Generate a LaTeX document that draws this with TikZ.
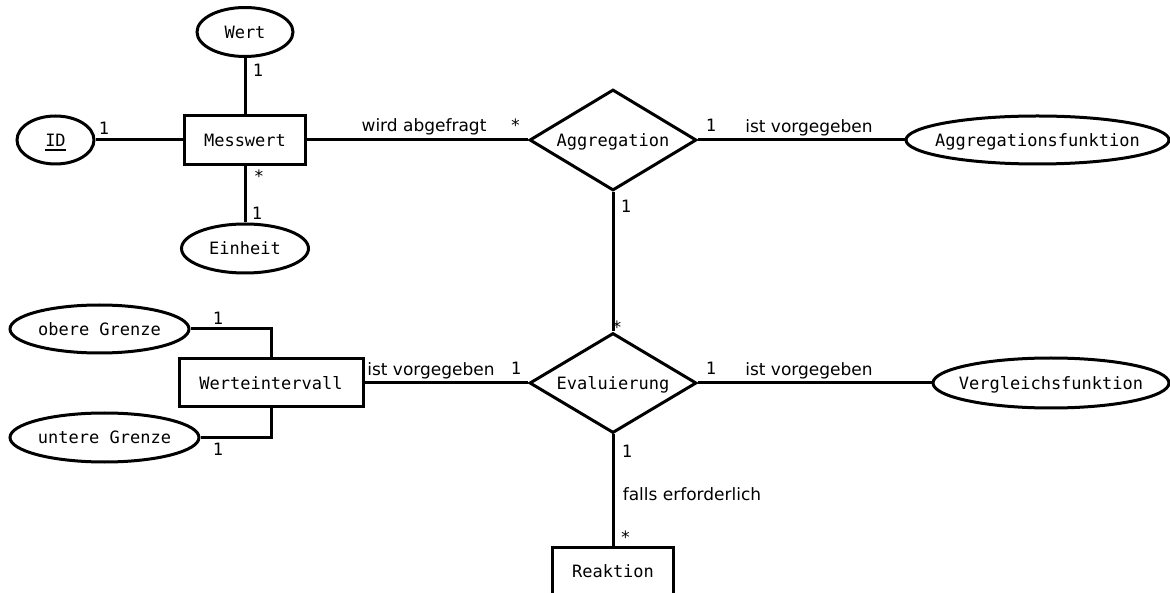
\documentclass[tikz,border=0pt]{standalone}
\usepackage{fontspec}
\setmainfont{DejaVu Sans}
\setmonofont{DejaVu Sans Mono}
\usetikzlibrary{shapes.geometric}
% key attribute: text with a thick underline
\newcommand\keyattr[1]{\setbox0=\hbox{#1}\hbox{\rlap{\copy0}\raisebox{-5.3pt}{\rule{\wd0}{2.4pt}}}}
\begin{document}
\begin{tikzpicture}[x=1pt,y=-1pt,
  every node/.style={font=\fontsize{17}{20}\selectfont\ttfamily},
  shapebase/.style={draw, line width=3pt, inner sep=0pt, text height=12.4pt, text depth=0pt},
  entity/.style={shapebase, rectangle},
  attr/.style={shapebase, ellipse},
  rel/.style={shapebase, diamond, aspect=1.65},
  card/.style={anchor=base, inner sep=0pt},
  role/.style={anchor=base, inner sep=0pt, font=\fontsize{17}{20}\selectfont\rmfamily},
  link/.style={line width=3pt}]
\useasboundingbox[fill=white] (0,0) rectangle (1170,593);

% entities
\node[entity, minimum width=121pt, minimum height=49pt] (mw) at (245,140) {Messwert};
\node[entity, minimum width=184pt, minimum height=48pt] (wi) at (271,383) {Werteintervall};
\node[entity, minimum width=121pt, minimum height=49pt] (re) at (613,571.5) {Reaktion};

% attributes
\node[attr, minimum width=96pt, minimum height=49pt] (wert) at (245,32) {\makebox[0pt]{Wert}};
\node[attr, minimum width=77pt, minimum height=48pt] (id) at (55.5,140) {\makebox[0pt]{\keyattr{ID}}};
\node[attr, minimum width=127pt, minimum height=49pt] (ein) at (245,248.5) {\makebox[0pt]{Einheit}};
\node[attr, minimum width=263pt, minimum height=48pt] (aggf) at (1037.5,140) {\makebox[0pt]{Aggregationsfunktion}};
\node[attr, minimum width=179pt, minimum height=48pt] (og) at (99.5,329) {\makebox[0pt]{obere Grenze}};
\node[attr, minimum width=189pt, minimum height=49pt] (ug) at (104.5,437.5) {\makebox[0pt]{untere Grenze}};
\node[attr, minimum width=236pt, minimum height=50pt] (vf) at (1051,383) {\makebox[0pt]{Vergleichsfunktion}};

% relationships
\node[rel, minimum width=167pt, minimum height=101pt] (agg) at (613,140) {Aggregation};
\node[rel, minimum width=167pt, minimum height=100pt] (eval) at (613,383) {Evaluierung};

% connectors
\draw[link] (wert) -- (mw);
\draw[link] (id) -- (mw);
\draw[link] (mw) -- (ein);
\draw[link] (mw) -- (agg);
\draw[link] (agg) -- (aggf);
\draw[link] (agg) -- (eval);
\draw[link] (wi) -- (eval);
\draw[link] (eval) -- (vf);
\draw[link] (eval) -- (re);
\draw[link] (og.east) -| (wi.north);
\draw[link] (ug.east) -| (wi.south);

% cardinalities
\node[card] (c1) at (258,76.5) {1};
\node[card] (c2) at (104,135) {1};
\node[card] (c3) at (259,182.5) {*};
\node[card] (c4) at (257,220) {1};
\node[card] (c5) at (515.5,131.5) {*};
\node[card] (c6) at (711,132) {1};
\node[card] (c7) at (626,213) {1};
\node[card] (c8) at (617,333.5) {*};
\node[card] (c9) at (218,324.5) {1};
\node[card] (c10) at (218,455) {1};
\node[card] (c11) at (516,375) {1};
\node[card] (c12) at (711,375) {1};
\node[card] (c13) at (627,457) {1};
\node[card] (c14) at (625.5,543) {*};

% role names
\node[role] (r1) at (424,132) {wird abgefragt};
\node[role] (r2) at (809,133) {ist vorgegeben};
\node[role] (r3) at (431,376) {ist vorgegeben};
\node[role] (r4) at (809,376) {ist vorgegeben};
\node[role] (r5) at (692,500) {falls erforderlich};
\end{tikzpicture}
\end{document}
